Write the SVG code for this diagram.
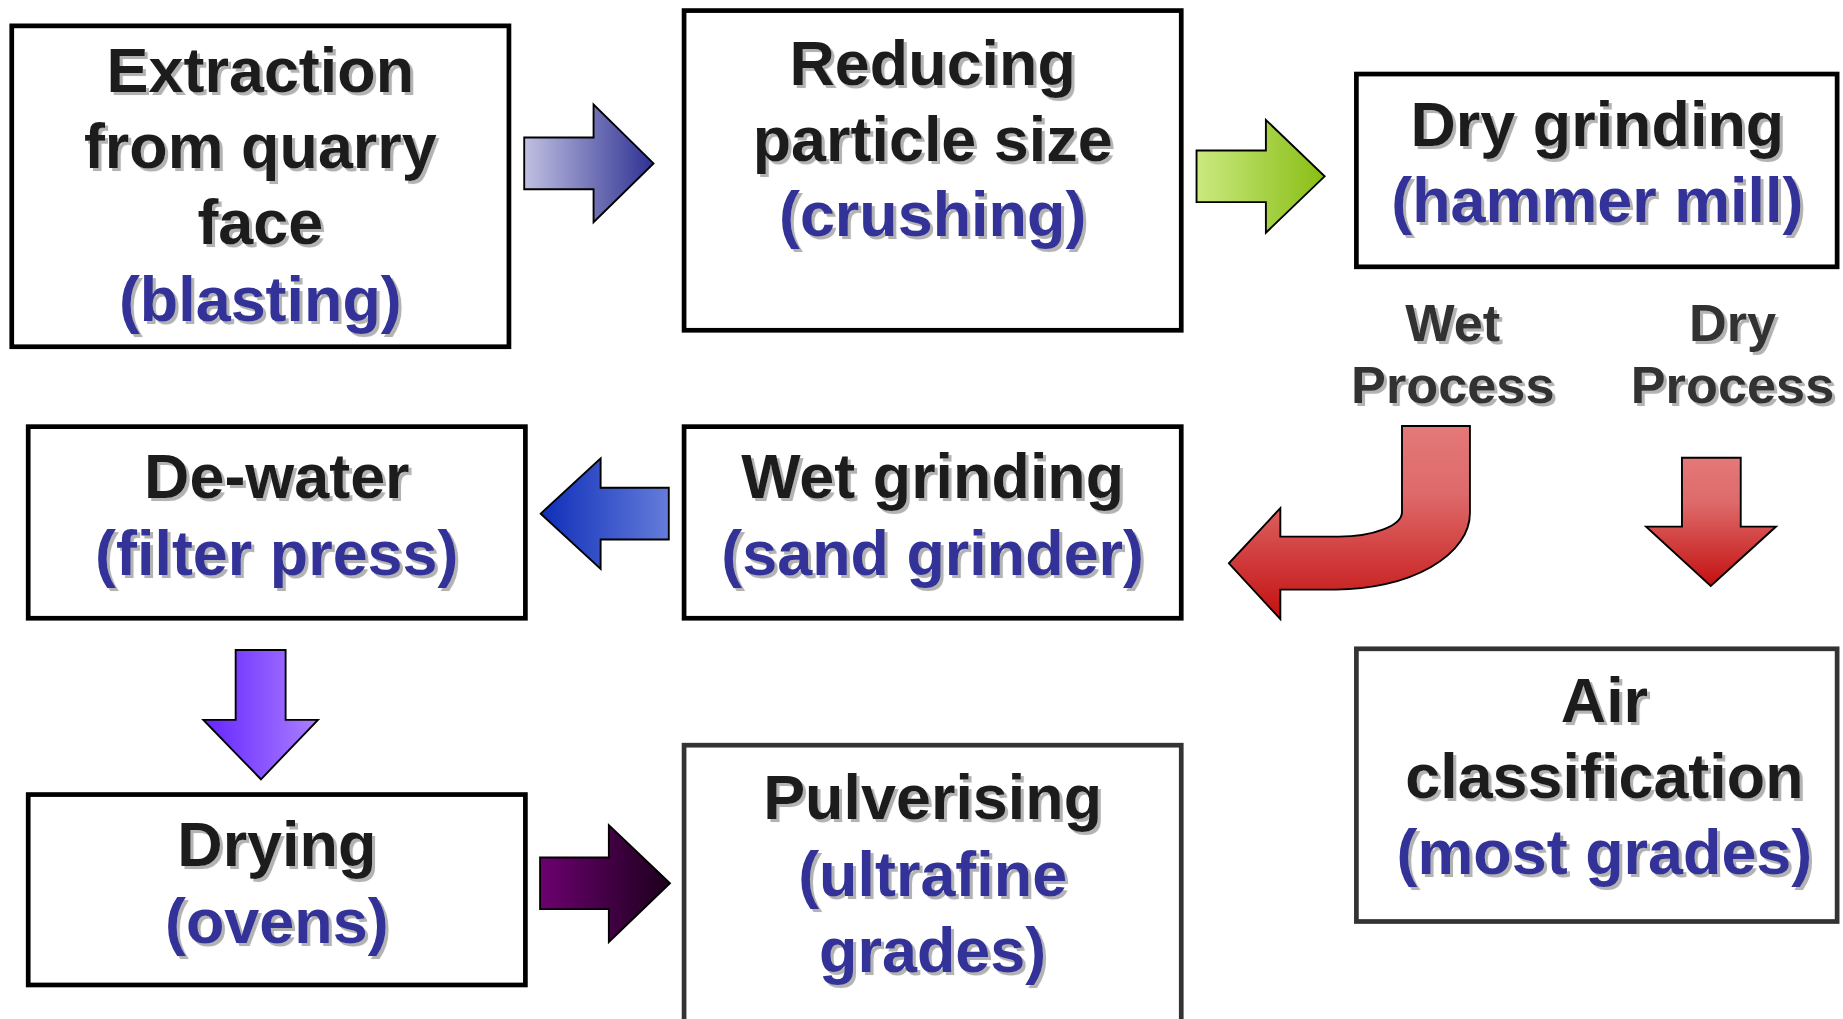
<svg xmlns="http://www.w3.org/2000/svg" width="1843" height="1019" viewBox="0 0 1843 1019">
<defs>
<style>
.box{fill:#fff;stroke:#000;stroke-width:4}
.box2{fill:#fff;stroke:#333;stroke-width:4}
.t{font-family:"Liberation Sans",Arial,sans-serif;font-weight:bold;font-size:53.5px;text-anchor:middle;filter:url(#sh)}
.k{fill:#1e1e1e}
.b{fill:#333399}
.g{fill:#333;font-size:44.5px}
.ar{stroke:#000;stroke-width:1.6;stroke-linejoin:miter}
</style>
<filter id="sh" x="-10%" y="-20%" width="130%" height="150%">
<feDropShadow dx="2.6" dy="2.6" stdDeviation="0.6" flood-color="#9a9a9a" flood-opacity="0.75"/>
</filter>
<linearGradient id="gA1" x1="0" y1="0" x2="1" y2="0"><stop offset="0" stop-color="#C0C0E2"/><stop offset="1" stop-color="#2E3192"/></linearGradient>
<linearGradient id="gA2" x1="0" y1="0" x2="1" y2="0"><stop offset="0" stop-color="#CBE980"/><stop offset="1" stop-color="#88BE14"/></linearGradient>
<linearGradient id="gA3" x1="0" y1="0" x2="1" y2="0"><stop offset="0" stop-color="#0E2EB8"/><stop offset="1" stop-color="#647CDA"/></linearGradient>
<linearGradient id="gA4" x1="0" y1="0" x2="1" y2="0"><stop offset="0" stop-color="#6424FF"/><stop offset="1" stop-color="#AC80FF"/></linearGradient>
<linearGradient id="gA5" x1="0" y1="0" x2="1" y2="0"><stop offset="0" stop-color="#6C0070"/><stop offset="1" stop-color="#1C001C"/></linearGradient>
<linearGradient id="gR" x1="0" y1="0" x2="0" y2="1"><stop offset="0" stop-color="#E47878"/><stop offset="0.35" stop-color="#DE6A6A"/><stop offset="1" stop-color="#C41010"/></linearGradient>
</defs>
<rect width="1843" height="1019" fill="#fff"/>
<g transform="scale(1.17538)">
<g id="connectors">
<polygon class="ar" fill="url(#gA1)" points="446,117 505,117 505,89 556,139 505,189 505,161 446,161"/>
<polygon class="ar" fill="url(#gA2)" points="1018,128 1077,128 1077,102 1127,150 1077,198 1077,172 1018,172"/>
<polygon class="ar" fill="url(#gA3)" points="569,415 511,415 511,390 460,437 511,484 511,459 569,459"/>
<polygon class="ar" fill="url(#gA4)" points="200.5,553 243,553 243,612.5 270.5,612.5 222,663 173,612.5 200.5,612.5"/>
<polygon class="ar" fill="url(#gA5)" points="459.5,729.5 518,729.5 518,702 570,751.5 518,801.5 518,773.5 459.5,773.5"/>
<polygon class="ar" fill="url(#gR)" points="1431,389.5 1481,389.5 1481,448 1511,448 1455.5,498.5 1400.5,448 1431,448"/>
<path class="ar" fill="url(#gR)" d="M1192.8,362.4 H1250.6 V436.6 A114,65 0 0 1 1136.6,501.6 H1089.3 V526.7 L1045.5,479.3 L1089.3,432.3 V456.6 H1138.8 A54,21 0 0 0 1192.8,435.6 Z"/>
</g>
<g id="n-extraction">
<rect class="box" x="10" y="22" width="423" height="273"/>
<text class="t k" x="221.5" y="78">Extraction</text>
<text class="t k" x="221.5" y="143">from quarry</text>
<text class="t k" x="221.5" y="208">face</text>
<text class="t b" x="221.5" y="273">(blasting)</text>
</g>
<g id="n-reducing">
<rect class="box" x="582" y="9" width="423" height="272"/>
<text class="t k" x="793.5" y="72">Reducing</text>
<text class="t k" x="793.5" y="137">particle size</text>
<text class="t b" x="793.5" y="201">(crushing)</text>
</g>
<g id="n-drygrinding">
<rect class="box" x="1154" y="63" width="409" height="164"/>
<text class="t k" x="1359" y="124">Dry grinding</text>
<text class="t b" x="1359" y="189">(hammer mill)</text>
</g>
<g id="l-wet">
<text class="t g" x="1236" y="290">Wet</text>
<text class="t g" x="1236" y="343">Process</text>
</g>
<g id="l-dry">
<text class="t g" x="1474" y="290">Dry</text>
<text class="t g" x="1474" y="343">Process</text>
</g>
<g id="n-dewater">
<rect class="box" x="24" y="363" width="423" height="163"/>
<text class="t k" x="235.5" y="424">De-water</text>
<text class="t b" x="235.5" y="489">(filter press)</text>
</g>
<g id="n-wetgrinding">
<rect class="box" x="582" y="363" width="423" height="163"/>
<text class="t k" x="793.5" y="424">Wet grinding</text>
<text class="t b" x="793.5" y="489">(sand grinder)</text>
</g>
<g id="n-drying">
<rect class="box" x="24" y="676" width="423" height="162"/>
<text class="t k" x="235.5" y="737">Drying</text>
<text class="t b" x="235.5" y="802">(ovens)</text>
</g>
<g id="n-pulverising">
<rect class="box2" x="582" y="634" width="423" height="240"/>
<text class="t k" x="793.5" y="697">Pulverising</text>
<text class="t b" x="793.5" y="762">(ultrafine</text>
<text class="t b" x="793.5" y="827">grades)</text>
</g>
<g id="n-airclass">
<rect class="box2" x="1154" y="552" width="409" height="232"/>
<text class="t k" x="1365" y="614">Air</text>
<text class="t k" x="1365" y="679">classification</text>
<text class="t b" x="1365" y="744">(most grades)</text>
</g>
</g>
</svg>
